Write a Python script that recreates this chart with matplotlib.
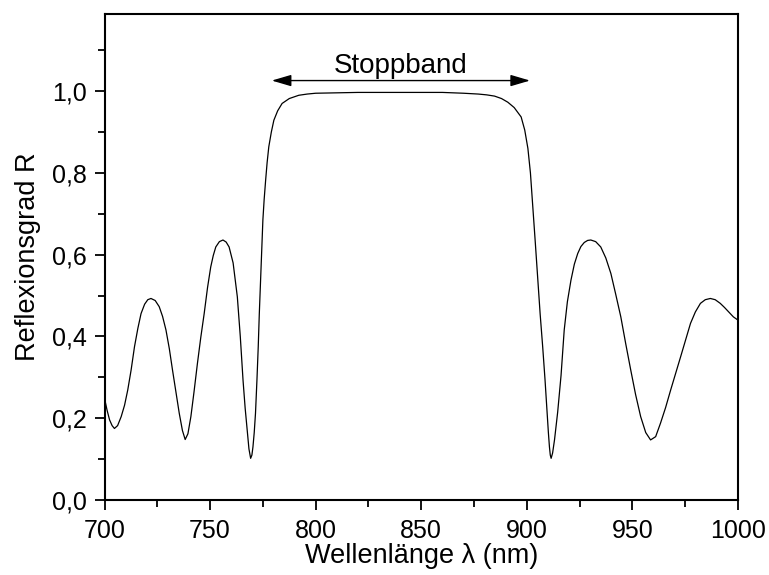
import matplotlib.pyplot as plt
from matplotlib.ticker import MultipleLocator, FuncFormatter

plt.rcParams['font.family'] = ['Liberation Sans', 'DejaVu Sans']

# Wellenlaenge (nm) und Reflexionsgrad
wl = [700.0, 701.2, 702.4, 703.6, 704.7, 706.2, 707.9, 709.5, 711.0, 712.6,
      714.2, 715.8, 717.3, 719.0, 720.5, 722.0, 724.0, 725.9, 727.5, 729.1,
      730.7, 732.2, 733.8, 735.4, 736.9, 738.2, 739.5, 740.9, 742.4, 744.0,
      745.6, 747.2, 748.8, 750.3, 751.5, 752.7, 754.4, 756.1, 757.6, 759.0,
      760.9, 762.9, 764.3, 765.6, 766.6, 767.6, 768.4, 769.2, 769.8, 770.3,
      770.9, 771.5, 772.2, 772.8, 773.3, 773.9, 774.5, 775.0, 775.6, 776.3,
      777.0, 777.8, 779.0, 780.2, 782.0, 784.1, 787.5, 792.0, 796.0, 800.0,
      810.0, 820.0, 830.0, 840.0, 850.0, 860.0, 870.0, 877.0, 881.0, 884.7,
      888.0, 891.0, 894.0, 897.3, 899.0, 900.5, 901.7, 902.8, 904.0, 905.2,
      906.3, 907.5, 908.6, 909.6, 910.2, 910.7, 911.1, 911.5, 912.2, 913.1,
      914.6, 916.2, 917.7, 919.2, 920.9, 922.5, 924.1, 925.6, 927.2, 928.8,
      930.3, 932.6, 935.0, 937.4, 939.8, 942.1, 944.5, 946.8, 949.2, 951.5,
      953.9, 956.3, 958.6, 961.0, 963.3, 965.7, 968.1, 970.5, 972.8, 975.2,
      977.5, 979.8, 982.2, 984.5, 986.9, 989.2, 991.6, 993.6, 995.6, 997.8,
      1000.0]
refl = [0.249, 0.220, 0.196, 0.182, 0.175, 0.182, 0.204, 0.232, 0.269, 0.318,
        0.375, 0.420, 0.456, 0.479, 0.490, 0.493, 0.488, 0.473, 0.449, 0.416,
        0.370, 0.318, 0.265, 0.212, 0.170, 0.148, 0.162, 0.204, 0.265, 0.334,
        0.398, 0.456, 0.520, 0.570, 0.598, 0.619, 0.632, 0.636, 0.631, 0.619,
        0.580, 0.497, 0.400, 0.293, 0.225, 0.171, 0.125, 0.102, 0.110, 0.130,
        0.165, 0.212, 0.295, 0.375, 0.455, 0.538, 0.615, 0.685, 0.735, 0.782,
        0.825, 0.864, 0.900, 0.929, 0.952, 0.970, 0.982, 0.990, 0.993, 0.995,
        0.996, 0.997, 0.997, 0.997, 0.997, 0.997, 0.995, 0.993, 0.991, 0.988,
        0.982, 0.973, 0.960, 0.937, 0.905, 0.860, 0.800, 0.720, 0.630, 0.538,
        0.455, 0.375, 0.295, 0.212, 0.165, 0.130, 0.110, 0.102, 0.115, 0.147,
        0.215, 0.305, 0.416, 0.485, 0.538, 0.577, 0.603, 0.620, 0.630, 0.635,
        0.636, 0.632, 0.619, 0.592, 0.554, 0.503, 0.448, 0.383, 0.318, 0.258,
        0.204, 0.165, 0.147, 0.155, 0.188, 0.226, 0.269, 0.310, 0.350, 0.392,
        0.432, 0.460, 0.481, 0.490, 0.493, 0.490, 0.481, 0.471, 0.460, 0.448,
        0.440]

band_lo, band_hi = 779.2, 901.5
band_y = 1.026

fig = plt.figure(figsize=(7.69, 5.75), dpi=100)
ax = fig.add_axes([0.1359, 0.1304, 0.8238, 0.8461])

ax.plot(wl, refl, color='black', lw=0.9)

ax.annotate('', xy=(band_lo, band_y), xytext=(band_hi, band_y),
            arrowprops=dict(arrowstyle='<|-|>,head_length=0.85,head_width=0.25',
                            color='black', lw=1.0, mutation_scale=14,
                            shrinkA=0, shrinkB=0))
ax.text((band_lo + band_hi) / 2, 1.044, 'Stoppband',
        ha='center', va='baseline', fontsize=20)

ax.set_xlim(700, 1000)
ax.set_ylim(0, 1.19)
ax.xaxis.set_major_locator(MultipleLocator(50))
ax.xaxis.set_minor_locator(MultipleLocator(25))
ax.yaxis.set_major_locator(MultipleLocator(0.2))
ax.yaxis.set_minor_locator(MultipleLocator(0.1))
ax.yaxis.set_major_formatter(FuncFormatter(lambda v, p: f'{v:.1f}'.replace('.', ',')))

ax.tick_params(which='both', direction='out', width=1.3, labelsize=18)
ax.tick_params(which='major', length=7.5)
ax.tick_params(which='minor', length=5)
ax.tick_params(axis='x', which='major', pad=6.5)
ax.tick_params(axis='y', which='major', pad=5)
for s in ax.spines.values():
    s.set_linewidth(1.5)

ax.set_xlabel('Wellenlänge λ (nm)', fontsize=19.5, labelpad=0)
ax.set_ylabel('Reflexionsgrad R', fontsize=19.5, labelpad=8)

fig.savefig('out.png', dpi=100)
